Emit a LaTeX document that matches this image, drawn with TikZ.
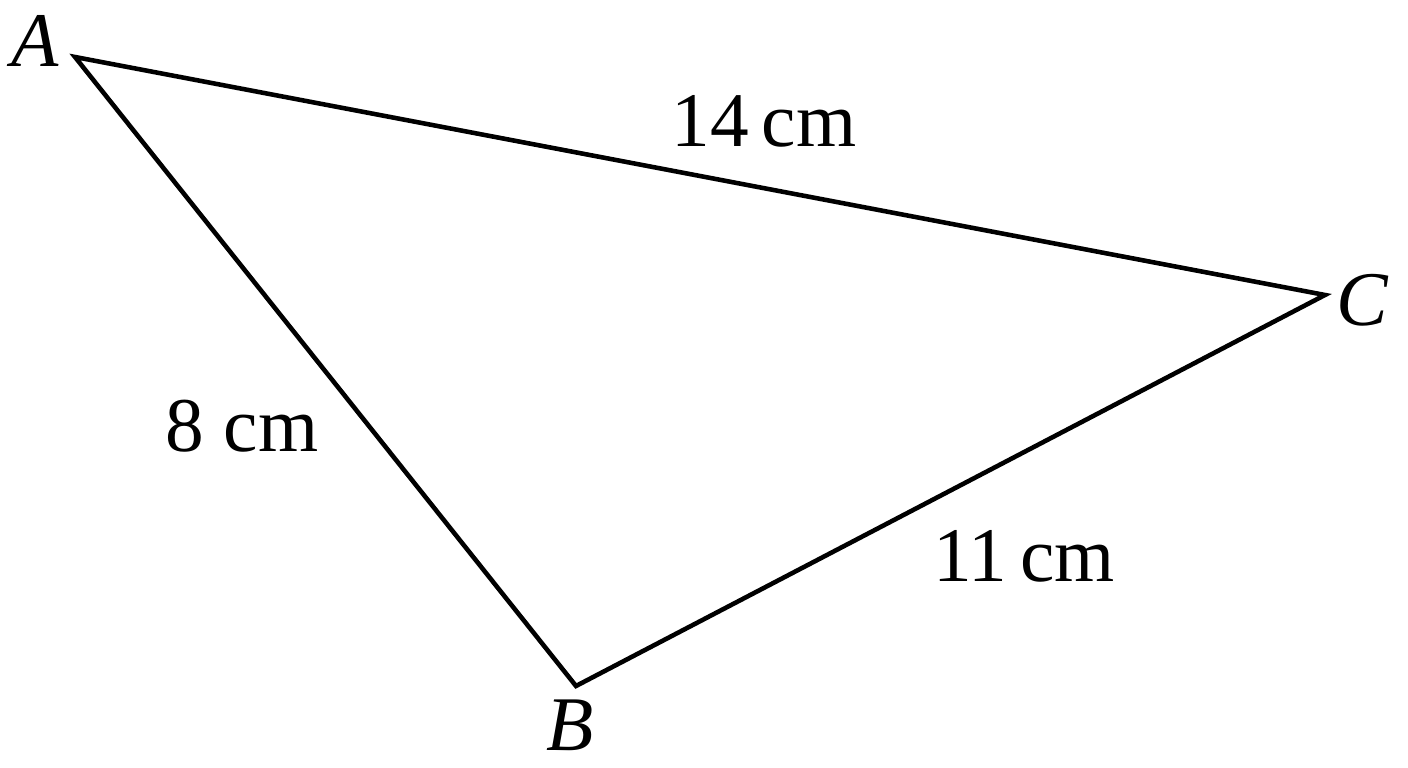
\documentclass[tikz,border=0pt]{standalone}
\usepackage{fontspec}
\setmainfont{Liberation Serif}
\begin{document}
\begin{tikzpicture}[line width=1.3pt, every node/.style={font=\fontsize{22}{26}\selectfont}]
    \useasboundingbox (0,0) rectangle (14.08,7.68);

    \coordinate (A) at (0.75,7.11);
    \coordinate (B) at (5.76,0.82);
    \coordinate (C) at (13.25,4.73);
    \draw[line join=miter] (A) -- (B) -- (C) -- cycle;

    \node (lA) at (0.35,7.27) {\textit{A}};
    \node (lB) at (5.70,0.43) {\textit{B}};
    \node (lC) at (13.63,4.68) {\textit{C}};

    \node (lAC) at (7.64,6.47) {14\,cm};
    \node (lAB) at (2.42,3.42) {8 cm};
    \node (lBC) at (10.24,2.12) {11\,cm};
\end{tikzpicture}
\end{document}
